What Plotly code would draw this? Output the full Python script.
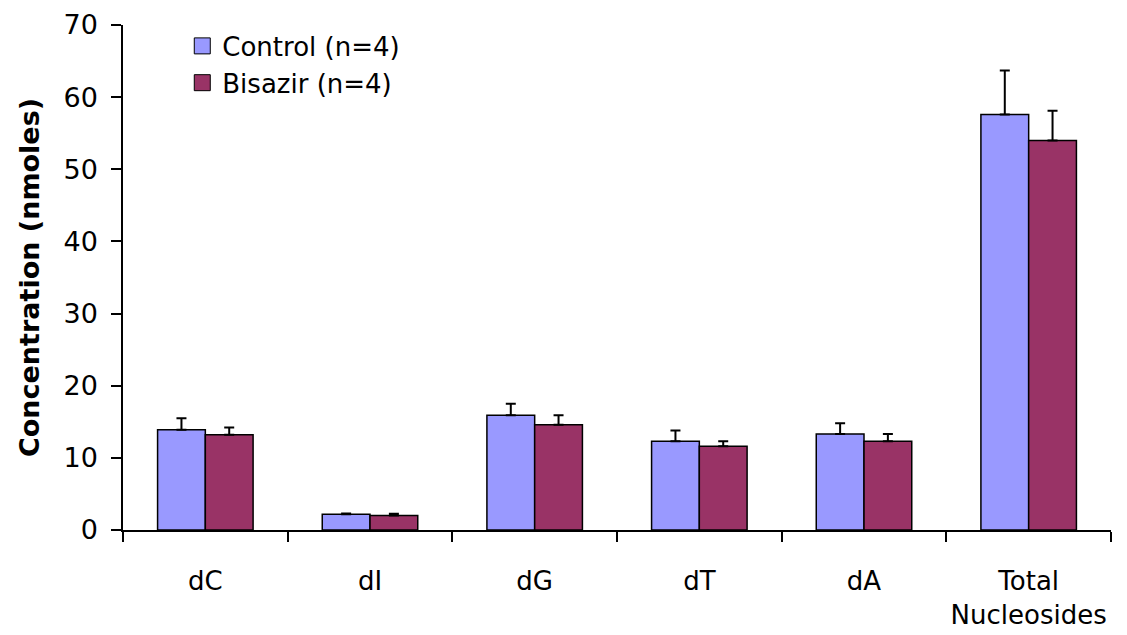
import plotly.graph_objects as go

categories = ["dC", "dI", "dG", "dT", "dA", "Total<br>Nucleosides"]
control_vals = [13.9, 2.2, 15.9, 12.3, 13.3, 57.6]
control_err = [1.6, 0.1, 1.6, 1.5, 1.5, 6.1]
bisazir_vals = [13.2, 2.0, 14.6, 11.6, 12.3, 54.0]
bisazir_err = [1.0, 0.25, 1.3, 0.7, 1.0, 4.1]
y_ticks = [0, 10, 20, 30, 40, 50, 60, 70]
series_names = ["Control (n=4)", "Bisazir (n=4)"]
series_colors = ["#9999FF", "#993366"]

FONT = "DejaVu Sans, Verdana, sans-serif"

fig = go.Figure()
for name, vals, err, col in zip(series_names, [control_vals, bisazir_vals],
                                [control_err, bisazir_err], series_colors):
    fig.add_trace(go.Bar(
        name=name, x=categories, y=vals, showlegend=False,
        marker=dict(color=col, line=dict(color="black", width=1.5)),
        error_y=dict(type="data", array=err, symmetric=False,
                     arrayminus=[0] * len(err), color="black",
                     thickness=2, width=5),
    ))
# legend swatches (larger squares as in the original)
for name, col in zip(series_names, series_colors):
    fig.add_trace(go.Scatter(
        name=name, x=[None], y=[None], mode="markers",
        marker=dict(symbol="square", size=18, color=col,
                    line=dict(color="black", width=1)),
    ))

# the page body adds an 8px offset; margins compensate for it
fig.update_layout(
    width=1127, height=635,
    margin=dict(l=115, r=24, t=17, b=113, autoexpand=False),
    paper_bgcolor="white", plot_bgcolor="white",
    barmode="group", bargap=0.42, bargroupgap=0,
    font=dict(family=FONT, size=27, color="black"),
    legend=dict(x=0.06, y=1.005, xanchor="left", yanchor="top",
                bgcolor="rgba(0,0,0,0)", font=dict(size=26),
                tracegroupgap=0, itemwidth=30),
    xaxis=dict(showline=True, linecolor="black", linewidth=1.5,
               ticks="outside", ticklen=10, tickcolor="black", tickwidth=1.5,
               tickson="boundaries", ticklabelstandoff=27, automargin=False,
               tickangle=0,
               tickfont=dict(size=26), showgrid=False, zeroline=False),
    yaxis=dict(range=[0, 70], tickvals=y_ticks, showline=True,
               linecolor="black", linewidth=1.5, ticks="outside", ticklen=10,
               tickcolor="black", tickwidth=1.5, showgrid=False, zeroline=False,
               ticklabelstandoff=8, tickfont=dict(size=27), automargin=False,
               title=dict(text="<b>Concentration (nmoles)</b>",
                          font=dict(size=27), standoff=16)),
)

fig.write_html("out.html")
